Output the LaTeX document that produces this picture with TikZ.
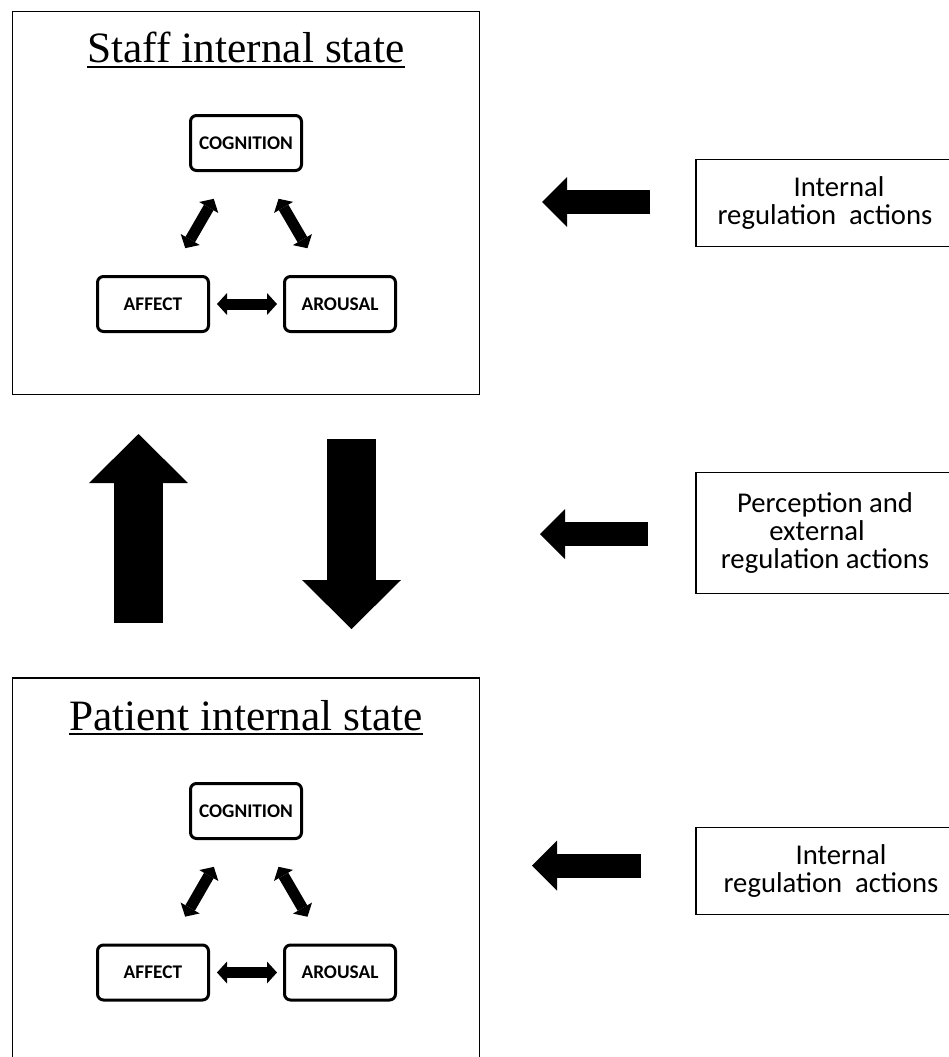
\documentclass[tikz,border=0pt]{standalone}
\usepackage{fontspec}
\setmainfont{Liberation Serif}
\newfontfamily\calib{Carlito}
\usetikzlibrary{arrows.meta}
\tikzset{
  tipA/.tip={Triangle[width=16.5pt,length=7.5pt,line width=0pt]},
  tipBig/.tip={Triangle[width=74.25pt,length=36.75pt,line width=0pt]},
  tipSide/.tip={Triangle[width=37.5pt,length=18.75pt,line width=0pt]},
}
\begin{document}
\begin{tikzpicture}[x=0.75pt,y=-0.75pt,
  frame/.style={draw, line width=1.1pt, inner sep=0pt, minimum width=350pt},
  ttl/.style={font=\fontsize{32.5}{38}\selectfont, inner sep=0pt, anchor=base},
  ul/.style={line width=1.5pt},
  st/.style={draw, line width=2.25pt, rounded corners=4.5pt, minimum width=83.25pt,
    minimum height=41.25pt, inner sep=0pt, font=\calib\bfseries\fontsize{14.5}{16}\selectfont},
  act/.style={draw, line width=1.1pt, minimum width=193.5pt, inner sep=0pt, align=center,
    font=\calib\fontsize{21.5}{21}\selectfont},
  dbl/.style={line width=8.25pt, tipA-tipA},
  big/.style={line width=36.75pt, -tipBig},
  side/.style={line width=18pt, -tipSide},
]
\useasboundingbox (0,0) rectangle (949,1057);

% ---------- Staff frame ----------
\node[frame, minimum height=287pt] (staff) at (246,203) {};
\node[ttl] (t1) at (246,62) {Staff internal state};
\draw[ul] ([yshift=-3.75pt]t1.base west) -- ([yshift=-3.75pt]t1.base east);
\node[st] (c1) at (246,143) {COGNITION};
\node[st] (a1) at (153,304) {AFFECT};
\node[st] (r1) at (340,304) {AROUSAL};
\draw[dbl, shorten <=23.25pt, shorten >=23.25pt] (a1) -- (c1);
\draw[dbl, shorten <=23.25pt, shorten >=23.25pt] (c1) -- (r1);
\draw[dbl, shorten <=5.25pt, shorten >=4.5pt] (a1) -- (r1);

% ---------- Patient frame ----------
\node[frame, minimum height=301.5pt] (patient) at (246,879) {};
\node[ttl] (t2) at (246,730) {Patient internal state};
\draw[ul] ([yshift=-3pt]t2.base west) -- ([yshift=-3pt]t2.base east);
\node[st] (c2) at (246,811) {COGNITION};
\node[st] (a2) at (153,972.5) {AFFECT};
\node[st] (r2) at (340,972.5) {AROUSAL};
\draw[dbl, shorten <=23.25pt, shorten >=23.25pt] (a2) -- (c2);
\draw[dbl, shorten <=23.25pt, shorten >=23.25pt] (c2) -- (r2);
\draw[dbl, shorten <=5.25pt, shorten >=4.5pt] (a2) -- (r2);

% ---------- big vertical arrows ----------
\coordinate (u0) at (138.5,623);
\coordinate (u1) at (138.5,434);
\draw[big] (u0) -- (u1);
\coordinate (d0) at (351.5,439);
\coordinate (d1) at (351.5,629);
\draw[big] (d0) -- (d1);

% ---------- right boxes ----------
\node[act, minimum height=64.9pt] (b1) at (825,203)
  {\rule{21pt}{0pt}Internal\\regulation\ \ actions};
\node[act, minimum height=90.4pt] (b2) at (825,533)
  {Perception and\\external\rule{12pt}{0pt}\\regulation actions};
\node[act, minimum height=64.9pt] (b3) at (825,871)
  {\rule{24pt}{0pt}Internal\\\rule{9pt}{0pt}regulation\ \ actions};

% ---------- side arrows ----------
\coordinate (s1a) at (650,202);
\coordinate (s1b) at (542,202);
\draw[side] (s1a) -- (s1b);
\coordinate (s2a) at (648,534);
\coordinate (s2b) at (540,534);
\draw[side] (s2a) -- (s2b);
\coordinate (s3a) at (641,865.5);
\coordinate (s3b) at (532,865.5);
\draw[side] (s3a) -- (s3b);
\end{tikzpicture}
\end{document}
